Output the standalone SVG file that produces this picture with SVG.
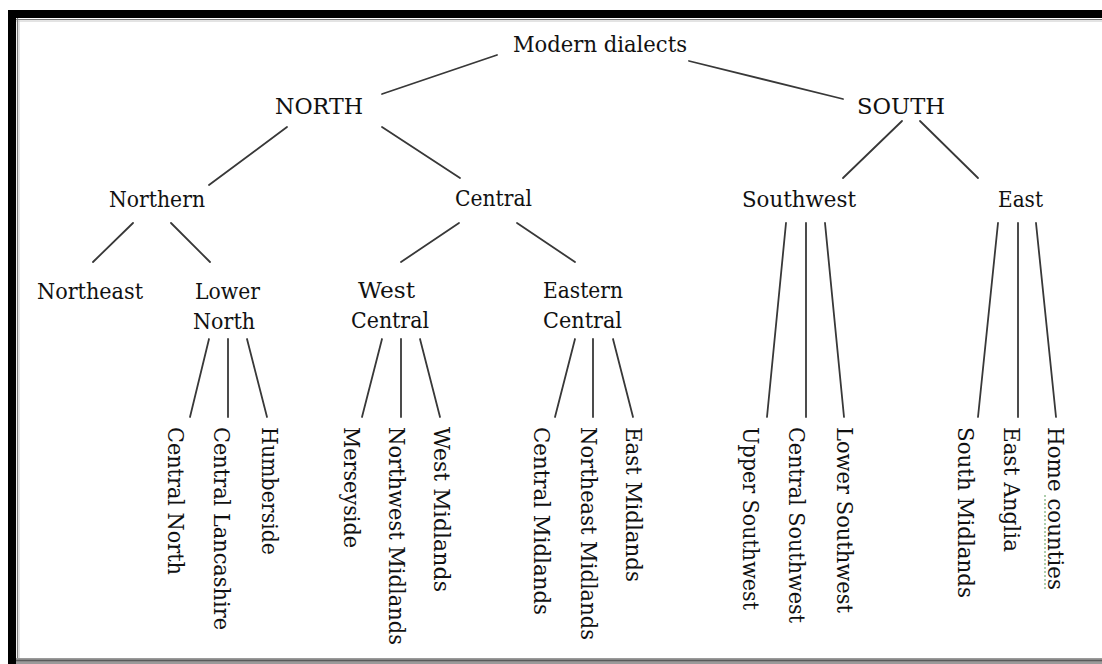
<svg xmlns="http://www.w3.org/2000/svg" width="1102" height="664" viewBox="0 0 1102 664">
<style>
  text { font-family: "DejaVu Serif", "Liberation Serif", serif; font-size: 22px; fill: #111111; }
  .c line { stroke: #383838; stroke-width: 1.8; stroke-linecap: round; }
</style>
<rect x="0" y="0" width="1102" height="664" fill="#ffffff"/>
<g id="frame">
  <rect x="8" y="10" width="1094" height="8" fill="#000"/>
  <rect x="8" y="10" width="8" height="654" fill="#000"/>
  <line x1="16" y1="19.5" x2="1102" y2="19.5" stroke="#7a7a7a" stroke-width="1.2"/>
  <line x1="16" y1="21" x2="1102" y2="21" stroke="#c8c8c8" stroke-width="1"/>
  <line x1="17.5" y1="18" x2="17.5" y2="664" stroke="#7a7a7a" stroke-width="1.2"/>
  <line x1="19" y1="20" x2="19" y2="664" stroke="#c8c8c8" stroke-width="1"/>
  <rect x="16" y="658" width="1086" height="6" fill="#9a9a9a"/>
  <line x1="16" y1="660.5" x2="1102" y2="660.5" stroke="#5a5a5a" stroke-width="1.5"/>
</g>
<g class="c" id="connectors">
  <line x1="497" y1="55" x2="382" y2="94"/>
  <line x1="689" y1="61" x2="843" y2="99"/>
  <line x1="287" y1="127" x2="209" y2="185"/>
  <line x1="382" y1="127" x2="460" y2="178"/>
  <line x1="902" y1="121" x2="843" y2="178"/>
  <line x1="920" y1="121" x2="978" y2="178"/>
  <line x1="133" y1="223" x2="93" y2="262"/>
  <line x1="171" y1="223" x2="210" y2="262"/>
  <line x1="459" y1="223" x2="401" y2="262"/>
  <line x1="517" y1="223" x2="575" y2="262"/>
  <line x1="209" y1="339" x2="190" y2="417"/>
  <line x1="228" y1="339" x2="228" y2="417"/>
  <line x1="247" y1="339" x2="267" y2="417"/>
  <line x1="382" y1="339" x2="362" y2="417"/>
  <line x1="401" y1="339" x2="401" y2="417"/>
  <line x1="420" y1="339" x2="440" y2="417"/>
  <line x1="575" y1="339" x2="555" y2="417"/>
  <line x1="593" y1="339" x2="593" y2="417"/>
  <line x1="613" y1="339" x2="633" y2="417"/>
  <line x1="786" y1="223" x2="767" y2="417"/>
  <line x1="806" y1="223" x2="806" y2="417"/>
  <line x1="825" y1="223" x2="844" y2="417"/>
  <line x1="998" y1="223" x2="978" y2="417"/>
  <line x1="1018" y1="223" x2="1018" y2="417"/>
  <line x1="1036" y1="223" x2="1056" y2="417"/>
</g>
<g id="n-modern"><text x="513" y="52" textLength="174" lengthAdjust="spacingAndGlyphs">Modern dialects</text></g>
<g id="n-north"><text x="275" y="114" textLength="88" lengthAdjust="spacingAndGlyphs">NORTH</text></g>
<g id="n-south"><text x="857" y="114" textLength="88" lengthAdjust="spacingAndGlyphs">SOUTH</text></g>
<g id="n-northern"><text x="109" y="207" textLength="96" lengthAdjust="spacingAndGlyphs">Northern</text></g>
<g id="n-central"><text x="455" y="206" textLength="77" lengthAdjust="spacingAndGlyphs">Central</text></g>
<g id="n-southwest"><text x="742" y="207" textLength="114" lengthAdjust="spacingAndGlyphs">Southwest</text></g>
<g id="n-east"><text x="998" y="207" textLength="45" lengthAdjust="spacingAndGlyphs">East</text></g>
<g id="n-northeast"><text x="37" y="299" textLength="106" lengthAdjust="spacingAndGlyphs">Northeast</text></g>
<g id="n-lower-north"><text x="195" y="299" textLength="65" lengthAdjust="spacingAndGlyphs">Lower</text><text x="193" y="329" textLength="62" lengthAdjust="spacingAndGlyphs">North</text></g>
<g id="n-west-central"><text x="358" y="298" textLength="57" lengthAdjust="spacingAndGlyphs">West</text><text x="351" y="328" textLength="78" lengthAdjust="spacingAndGlyphs">Central</text></g>
<g id="n-eastern-central"><text x="543" y="298" textLength="80" lengthAdjust="spacingAndGlyphs">Eastern</text><text x="543" y="328" textLength="79" lengthAdjust="spacingAndGlyphs">Central</text></g>
<g id="n-central-north"><text transform="translate(168,427) rotate(90)" textLength="148" lengthAdjust="spacingAndGlyphs">Central North</text></g>
<g id="n-central-lancashire"><text transform="translate(214,427) rotate(90)" textLength="203" lengthAdjust="spacingAndGlyphs">Central Lancashire</text></g>
<g id="n-humberside"><text transform="translate(262,427) rotate(90)" textLength="128" lengthAdjust="spacingAndGlyphs">Humberside</text></g>
<g id="n-merseyside"><text transform="translate(344,427) rotate(90)" textLength="121" lengthAdjust="spacingAndGlyphs">Merseyside</text></g>
<g id="n-northwest-midlands"><text transform="translate(389,427) rotate(90)" textLength="218" lengthAdjust="spacingAndGlyphs">Northwest Midlands</text></g>
<g id="n-west-midlands"><text transform="translate(434,427) rotate(90)" textLength="165" lengthAdjust="spacingAndGlyphs">West Midlands</text></g>
<g id="n-central-midlands"><text transform="translate(534,427) rotate(90)" textLength="188" lengthAdjust="spacingAndGlyphs">Central Midlands</text></g>
<g id="n-northeast-midlands"><text transform="translate(581,427) rotate(90)" textLength="213" lengthAdjust="spacingAndGlyphs">Northeast Midlands</text></g>
<g id="n-east-midlands"><text transform="translate(626,427) rotate(90)" textLength="155" lengthAdjust="spacingAndGlyphs">East Midlands</text></g>
<g id="n-upper-southwest"><text transform="translate(743,427) rotate(90)" textLength="183" lengthAdjust="spacingAndGlyphs">Upper Southwest</text></g>
<g id="n-central-southwest"><text transform="translate(789,427) rotate(90)" textLength="196" lengthAdjust="spacingAndGlyphs">Central Southwest</text></g>
<g id="n-lower-southwest"><text transform="translate(837,427) rotate(90)" textLength="186" lengthAdjust="spacingAndGlyphs">Lower Southwest</text></g>
<g id="n-south-midlands"><text transform="translate(958,427) rotate(90)" textLength="171" lengthAdjust="spacingAndGlyphs">South Midlands</text></g>
<g id="n-east-anglia"><text transform="translate(1004,427) rotate(90)" textLength="125" lengthAdjust="spacingAndGlyphs">East Anglia</text></g>
<g id="n-home-counties"><text transform="translate(1048,427) rotate(90)" textLength="163" lengthAdjust="spacingAndGlyphs">Home counties</text><line x1="1045" y1="495" x2="1045" y2="590" stroke="#3c8c3c" stroke-width="1.2" stroke-dasharray="2 2" opacity="0.7"/></g>
</svg>
